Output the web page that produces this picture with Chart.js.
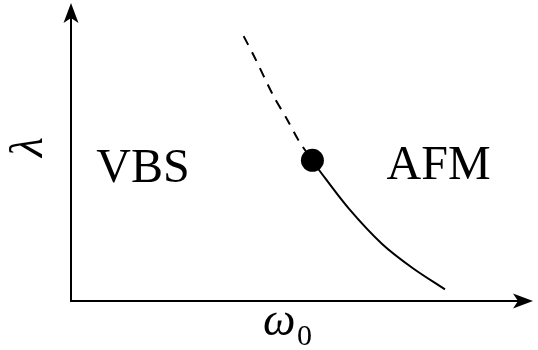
<!DOCTYPE html>
<html>
<head>
<meta charset="utf-8">
<script src="https://cdn.jsdelivr.net/npm/chart.js@4"></script>
<style>
  html, body { margin: 0; padding: 0; background: #fff; }
  #wrap { width: 538px; height: 350px; }
</style>
</head>
<body>
<div id="wrap"><canvas id="phase"></canvas></div>
<script>
// Phase boundary (schematic units, omega0 on x, lambda on y)
const dashedX = [3.79, 4.03, 4.43, 4.76, 5.01, 5.3];
const dashedY = [9.15, 8.42, 7.13, 6.23, 5.51, 4.86];
const solidX = [5.3, 5.49, 6.1, 6.83, 7.49, 8.21];
const solidY = [4.86, 4.43, 3.19, 1.97, 1.15, 0.4];
const criticalX = [5.3];
const criticalY = [4.86];
const phaseLabels = ["VBS", "AFM"];

const toPoints = (xs, ys) => xs.map((x, i) => ({ x: x, y: ys[i] }));

// Draw axes with arrow heads and the labels
const decorPlugin = {
  id: "decor",
  afterDraw(chart) {
    const ctx = chart.ctx;
    const xs = chart.scales.x;
    const ys = chart.scales.y;
    const ox = xs.getPixelForValue(0);
    const oy = ys.getPixelForValue(0);
    const xEnd = 533;
    const yEnd = 3;

    ctx.save();
    ctx.strokeStyle = "#000";
    ctx.fillStyle = "#000";
    ctx.lineWidth = 2;

    ctx.beginPath();
    ctx.moveTo(ox, oy);
    ctx.lineTo(xEnd - 10, oy);
    ctx.moveTo(ox, oy + 1);
    ctx.lineTo(ox, yEnd + 10);
    ctx.stroke();

    // x arrow
    ctx.beginPath();
    ctx.moveTo(xEnd, oy);
    ctx.lineTo(xEnd - 20, oy - 7.5);
    ctx.lineTo(xEnd - 15, oy);
    ctx.lineTo(xEnd - 20, oy + 7.5);
    ctx.closePath();
    ctx.fill();

    // y arrow
    ctx.beginPath();
    ctx.moveTo(ox, yEnd);
    ctx.lineTo(ox - 7.5, yEnd + 20);
    ctx.lineTo(ox, yEnd + 15);
    ctx.lineTo(ox + 7.5, yEnd + 20);
    ctx.closePath();
    ctx.fill();

    // phase labels
    ctx.font = "48px 'Liberation Serif'";
    ctx.textAlign = "center";
    ctx.textBaseline = "middle";
    ctx.fillText(phaseLabels[0], xs.getPixelForValue(1.58), ys.getPixelForValue(4.55));
    ctx.fillText(phaseLabels[1], xs.getPixelForValue(8.07), ys.getPixelForValue(4.65));

    // x axis label: omega_0
    ctx.textBaseline = "alphabetic";
    ctx.textAlign = "left";
    ctx.font = "italic 46px 'Liberation Serif'";
    ctx.fillText("ω", 263, 335);
    ctx.font = "30px 'Liberation Serif'";
    ctx.fillText("0", 297, 345);

    // y axis label: lambda, rotated
    ctx.translate(30, 147);
    ctx.rotate(-Math.PI / 2);
    ctx.font = "italic 46px 'Liberation Serif'";
    ctx.textAlign = "center";
    ctx.textBaseline = "middle";
    ctx.fillText("λ", 0, 0);
    ctx.restore();
  }
};

new Chart(document.getElementById("phase"), {
  type: "line",
  data: {
    datasets: [
      {
        data: toPoints(dashedX, dashedY),
        borderColor: "#000",
        borderWidth: 2,
        borderDash: [10, 8],
        pointRadius: 0,
        tension: 0.3
      },
      {
        data: toPoints(solidX, solidY),
        borderColor: "#000",
        borderWidth: 2,
        pointRadius: 0,
        tension: 0.3
      },
      {
        data: toPoints(criticalX, criticalY),
        showLine: false,
        pointRadius: 11.5,
        pointBackgroundColor: "#000",
        pointBorderWidth: 0
      }
    ]
  },
  options: {
    responsive: true,
    maintainAspectRatio: false,
    animation: false,
    layout: { padding: { left: 71, right: 10, top: 5, bottom: 49 } },
    plugins: {
      legend: { display: false },
      tooltip: { enabled: false }
    },
    scales: {
      x: { type: "linear", min: 0, max: 10, display: false },
      y: { type: "linear", min: 0, max: 10, display: false }
    }
  },
  plugins: [decorPlugin]
});
</script>
</body>
</html>
